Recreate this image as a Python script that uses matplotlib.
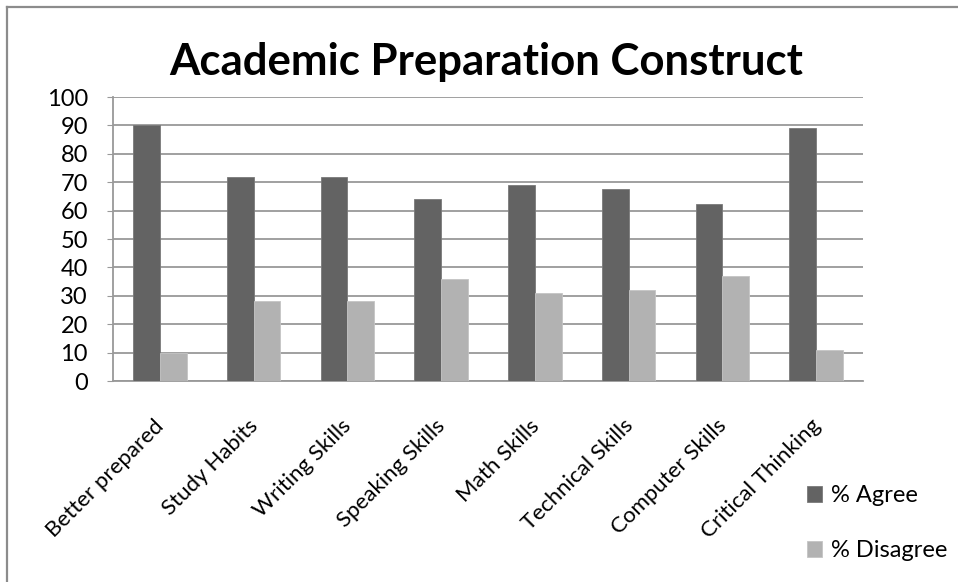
import matplotlib.pyplot as plt
import matplotlib.transforms as mtransforms
import numpy as np
from matplotlib.lines import Line2D

# Umfragewerte in Prozent
categories = ["Better prepared", "Study Habits", "Writing Skills", "Speaking Skills",
              "Math Skills", "Technical Skills", "Computer Skills", "Critical Thinking"]
agree = [90, 72, 72, 64, 69, 67.5, 62.5, 89]
disagree = [10, 28, 28, 36, 31, 32, 37, 11]
series_names = ["% Agree", "% Disagree"]

plt.rcParams['font.family'] = ['Lato', 'DejaVu Sans']

fig = plt.figure(figsize=(9.58, 5.82), dpi=100)
W, H = 958, 582
ax = fig.add_axes([113 / W, (H - 381) / H, 750 / W, 284 / H])

x = np.arange(len(categories))
bw = 1 / 3.5  # Balkenbreite bei 150% Abstand
ax.bar(x - bw / 2, agree, bw, color="#636363", edgecolor="#7a7a7a", linewidth=0.6,
       label=series_names[0], zorder=3)
ax.bar(x + bw / 2, disagree, bw, color="#b2b2b2", edgecolor="#c4c4c4", linewidth=0.6,
       label=series_names[1], zorder=3)

ax.set_xlim(-0.5, len(categories) - 0.5)
ax.set_ylim(0, 100)
ax.set_yticks(range(0, 101, 10))
ax.yaxis.grid(True, color="#999999", linewidth=1.3, zorder=0)
ax.set_axisbelow(True)
for side in ["top", "right"]:
    ax.spines[side].set_visible(False)
for side in ["left", "bottom"]:
    ax.spines[side].set_color("#999999")
    ax.spines[side].set_linewidth(1.3)
ax.tick_params(axis="y", length=4, color="#999999", labelsize=17, pad=14)
ax.tick_params(axis="x", length=0, labelsize=16, pad=25)
ax.set_xticks(x)
ax.set_xticklabels(categories, rotation=45, ha="right", va="top", rotation_mode="anchor")
# Beschriftungen etwas nach links schieben
shift = mtransforms.ScaledTranslation(-6 / 100, 0, fig.dpi_scale_trans)
for lbl in ax.get_xticklabels():
    lbl.set_transform(lbl.get_transform() + shift)

fig.text(486 / W, 1 - 75 / H, "Academic Preparation Construct", ha="center", va="baseline",
         fontsize=31.5, fontweight="bold")

fig.legend(loc="upper left", bbox_to_anchor=(807 / W, 1 - 485 / H), frameon=False,
           borderpad=0, borderaxespad=0, fontsize=17, handlelength=0.65,
           handleheight=0.65, handletextpad=0.35, labelspacing=1.45)

# Rahmen oben und links
fig.add_artist(Line2D([7 / W, 1], [1 - 7 / H, 1 - 7 / H], transform=fig.transFigure,
                      color="#8c8c8c", linewidth=1.6))
fig.add_artist(Line2D([7 / W, 7 / W], [0, 1 - 7 / H], transform=fig.transFigure,
                      color="#8c8c8c", linewidth=1.6))

fig.savefig("out.png", dpi=100)
